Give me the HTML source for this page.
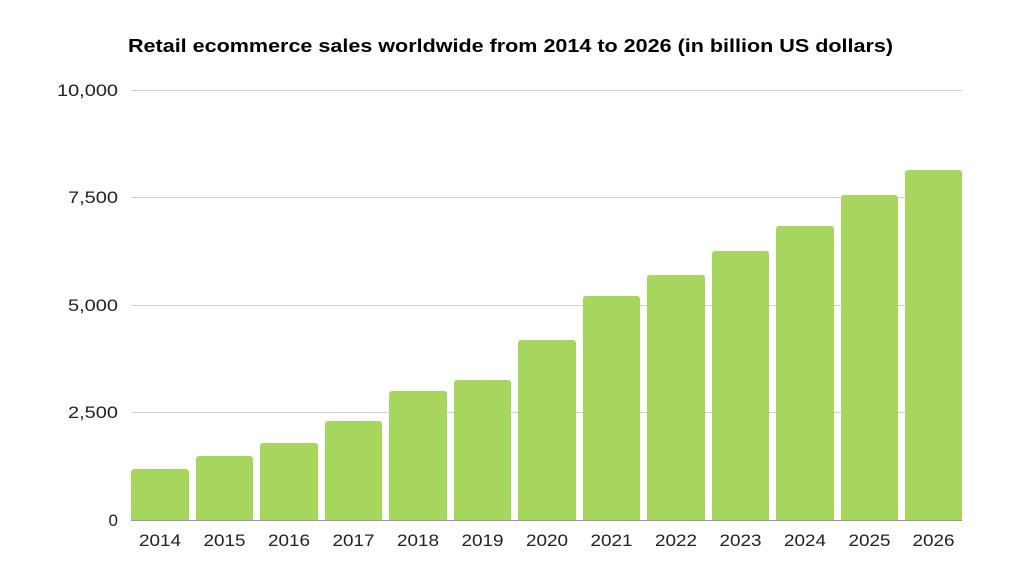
<!DOCTYPE html>
<html><head><meta charset="utf-8"><style>
html,body{margin:0;padding:0;background:#fff;}
svg{display:block;}
text{font-family:"Liberation Sans",sans-serif;}
</style></head><body>
<svg width="1020" height="574" viewBox="0 0 1020 574" xmlns="http://www.w3.org/2000/svg">
<rect width="1020" height="574" fill="#fff"/>
<text x="128" y="52" font-size="18.5" font-weight="bold" fill="#000" textLength="765" lengthAdjust="spacingAndGlyphs">Retail ecommerce sales worldwide from 2014 to 2026 (in billion US dollars)</text>
<g stroke="#d0d0d0" stroke-width="1">
<line x1="131" x2="962" y1="90.5" y2="90.5"/>
<line x1="131" x2="962" y1="197.5" y2="197.5"/>
<line x1="131" x2="962" y1="305.5" y2="305.5"/>
<line x1="131" x2="962" y1="412.5" y2="412.5"/>
</g>
<g font-size="17" fill="#222" text-anchor="end">
<text x="118" y="96" textLength="61" lengthAdjust="spacingAndGlyphs">10,000</text>
<text x="118" y="203" textLength="50" lengthAdjust="spacingAndGlyphs">7,500</text>
<text x="118" y="311" textLength="50" lengthAdjust="spacingAndGlyphs">5,000</text>
<text x="118" y="418" textLength="50" lengthAdjust="spacingAndGlyphs">2,500</text>
<text x="118" y="526">0</text>
</g>
<g fill="#a6d65e">
<path d="M131,520V472a3,3 0 0 1 3,-3H186a3,3 0 0 1 3,3V520Z"/>
<path d="M196,520V459a3,3 0 0 1 3,-3H250a3,3 0 0 1 3,3V520Z"/>
<path d="M260,520V446a3,3 0 0 1 3,-3H315a3,3 0 0 1 3,3V520Z"/>
<path d="M325,520V424a3,3 0 0 1 3,-3H379a3,3 0 0 1 3,3V520Z"/>
<path d="M389,520V394a3,3 0 0 1 3,-3H444a3,3 0 0 1 3,3V520Z"/>
<path d="M454,520V383a3,3 0 0 1 3,-3H508a3,3 0 0 1 3,3V520Z"/>
<path d="M518,520V343a3,3 0 0 1 3,-3H573a3,3 0 0 1 3,3V520Z"/>
<path d="M583,520V299a3,3 0 0 1 3,-3H637a3,3 0 0 1 3,3V520Z"/>
<path d="M647,520V278a3,3 0 0 1 3,-3H702a3,3 0 0 1 3,3V520Z"/>
<path d="M712,520V254a3,3 0 0 1 3,-3H766a3,3 0 0 1 3,3V520Z"/>
<path d="M776,520V229a3,3 0 0 1 3,-3H831a3,3 0 0 1 3,3V520Z"/>
<path d="M841,520V198a3,3 0 0 1 3,-3H895a3,3 0 0 1 3,3V520Z"/>
<path d="M905,520V173a3,3 0 0 1 3,-3H959a3,3 0 0 1 3,3V520Z"/>
</g>
<line x1="131" x2="962" y1="520.5" y2="520.5" stroke="#999" stroke-width="1"/>
<g font-size="17" fill="#222" text-anchor="middle">
<text x="160" y="546" textLength="42" lengthAdjust="spacingAndGlyphs">2014</text>
<text x="224.5" y="546" textLength="42" lengthAdjust="spacingAndGlyphs">2015</text>
<text x="289" y="546" textLength="42" lengthAdjust="spacingAndGlyphs">2016</text>
<text x="353.5" y="546" textLength="42" lengthAdjust="spacingAndGlyphs">2017</text>
<text x="418" y="546" textLength="42" lengthAdjust="spacingAndGlyphs">2018</text>
<text x="482.5" y="546" textLength="42" lengthAdjust="spacingAndGlyphs">2019</text>
<text x="547" y="546" textLength="42" lengthAdjust="spacingAndGlyphs">2020</text>
<text x="611.5" y="546" textLength="42" lengthAdjust="spacingAndGlyphs">2021</text>
<text x="676" y="546" textLength="42" lengthAdjust="spacingAndGlyphs">2022</text>
<text x="740.5" y="546" textLength="42" lengthAdjust="spacingAndGlyphs">2023</text>
<text x="805" y="546" textLength="42" lengthAdjust="spacingAndGlyphs">2024</text>
<text x="869.5" y="546" textLength="42" lengthAdjust="spacingAndGlyphs">2025</text>
<text x="933.5" y="546" textLength="42" lengthAdjust="spacingAndGlyphs">2026</text>
</g>
</svg>
</body></html>
